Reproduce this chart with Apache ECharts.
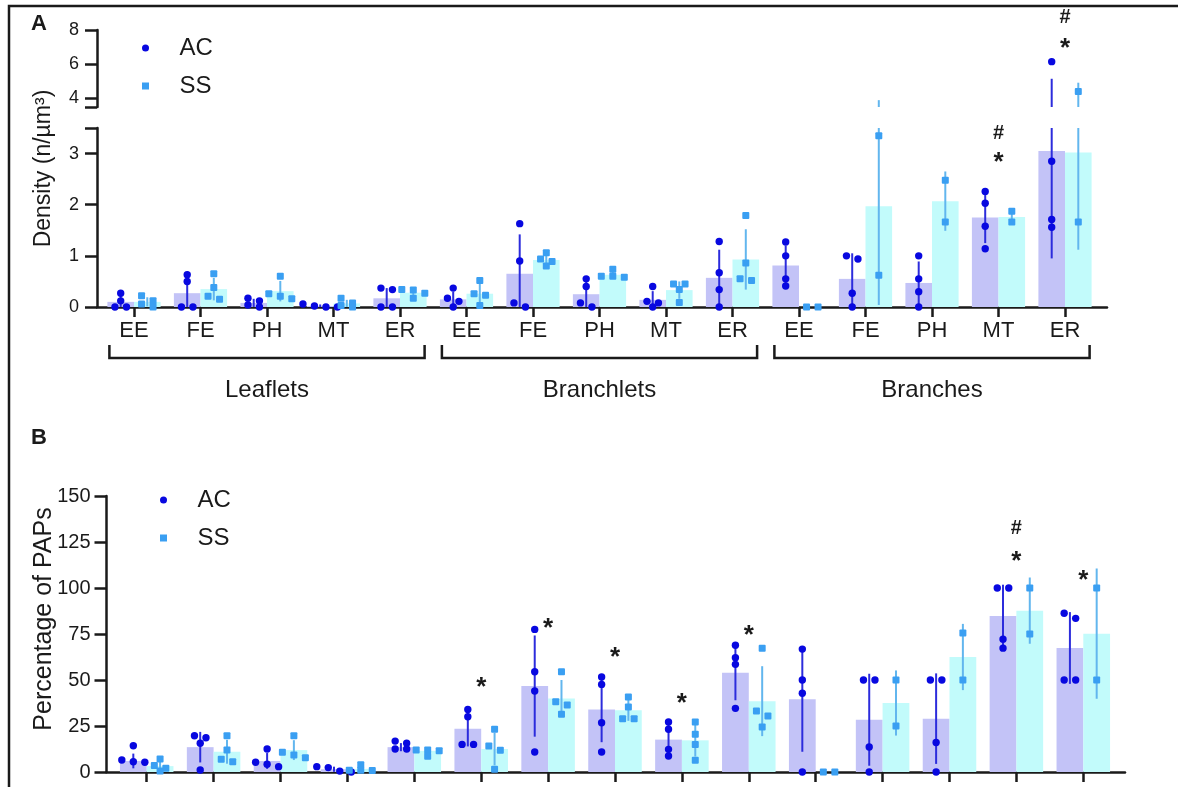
<!DOCTYPE html>
<html>
<head>
<meta charset="utf-8">
<script src="https://cdn.jsdelivr.net/npm/echarts@6.0.0/dist/echarts.min.js"></script>
<style>
  html, body { margin: 0; padding: 0; background: #ffffff; }
  #chart { width: 1178px; height: 787px; }
</style>
</head>
<body>
<div id="chart"></div>
<script>
// ---------------- DATA ----------------
const categories = ['EE','FE','PH','MT','ER','EE','FE','PH','MT','ER','EE','FE','PH','MT','ER'];
const groupNames = ['Leaflets','Branchlets','Branches'];
const groupStart = [0, 5, 10];
const groupEnd = [4, 9, 14];

// Panel A: density (n/µm³)
const densityTicksUpper = [4, 6, 8];
const densityTicksLower = [0, 1, 2, 3];
const densityAcMean = [0.10, 0.27, 0.08, 0.02, 0.17, 0.15, 0.65, 0.25, 0.14, 0.57, 0.81, 0.55, 0.47, 1.75, 3.05];
const densityAcSd   = [0.13, 0.33, 0.08, 0.03, 0.20, 0.15, 0.77, 0.26, 0.17, 0.55, 0.39, 0.50, 0.42, 0.50, 2.10];
const densityAcPoints = [
  [0, 0.27, 0.12, 0], [0, 0.63, 0.5, 0], [0.12, 0.04, 0.17, 0], [0, 0.06, 0.02, 0], [0.34, 0.37, 0, 0],
  [0.17, 0.37, 0, 0.11], [0, 1.63, 0.9, 0.08], [0, 0.55, 0.4, 0.08], [0.11, 0.4, 0, 0.08], [1.28, 0.67, 0.34, 0],
  [1.27, 1.0, 0.55, 0.41], [0.94, 1.0, 0.27, 0], [1.0, 0.55, 0.3, 0], [2.26, 2.03, 1.58, 1.14], [6.15, 2.85, 1.71, 1.56]
];
const densitySsMean = [0.10, 0.35, 0.31, 0.07, 0.28, 0.26, 0.92, 0.63, 0.33, 0.93, 0, 1.97, 2.07, 1.76, 3.02];
const densitySsSd   = [0.09, 0.22, 0.20, 0.07, 0.08, 0.20, 0.11, 0.08, 0.17, 0.59, 0, 1.93, 0.58, 0.15, 1.90];
const densitySsPoints = [
  [0, 0.22, 0.12, 0.06], [0.15, 0.65, 0.38, 0.21], [0.16, 0.6, 0.26, 0.21], [0, 0.17, 0.08, 0.03], [0.34, 0.17, 0.33, 0.27],
  [0.26, 0.52, 0.03, 0.23], [0.94, 1.06, 0.8, 0.89], [0.58, 0.74, 0.6, 0.6], [0.45, 0.45, 0.34, 0.09], [1.79, 0.86, 0.52, 0.55],
  [0, 0], [3.35, 0.62], [2.48, 1.66], [1.87, 1.66], [4.4, 1.66]
];
const densityAnnoCats  = [13, 13, 14, 14];
const densityAnnoVals  = [3.40, 2.91, 8.76, 7.18];
const densityAnnoTexts = ['#', '*', '#', '*'];

// Panel B: percentage of PAPs
const papTicks = [0, 25, 50, 75, 100, 125, 150];
const papAcMean = [6, 13.5, 6, 1.5, 13.5, 23.5, 46.7, 34, 17.6, 54, 39.5, 28.4, 29, 84.8, 67.4];
const papAcSd   = [4, 8.3, 4.3, 1.4, 2.2, 9.6, 27.5, 17.8, 8.3, 15, 28.5, 25, 24.6, 17, 19.5];
const papAcPoints = [
  [5.3, 14.3, 6.5, 5.6], [18.6, 19.7, 15.6, 1.1], [5.3, 2.9, 12.5, 4.2], [0, 2.4, 2.9, 0.5], [12.5, 15.6, 16.8, 12.5],
  [15, 15, 30, 34], [77.5, 54.5, 44, 10.9], [51.6, 47.6, 26.8, 10.9], [27.2, 23.2, 12.3, 8.7], [68.9, 62.1, 58.5, 34.6],
  [66.8, 50, 42.8, 0], [50, 50, 13.6, 0], [50, 50, 16, 0], [100, 100, 72.2, 67.3], [83.5, 86.3, 50, 50]
];
const papSsMean = [3.2, 11, 11.9, 1.7, 11.5, 12.5, 40, 33.5, 17.2, 38.5, 0, 37.5, 62.5, 87.7, 75.2];
const papSsSd   = [2.7, 6.5, 5.4, 1.6, 1.7, 8.9, 10, 5.7, 8.8, 19, 0, 17.7, 18, 18, 35.4];
const papSsPoints = [
  [3.5, 7, 0.5, 2], [5.6, 19.7, 12, 6.9], [7.8, 19.7, 10.7, 9.2], [4, 0.8, 1, 1], [12, 8.5, 11.5, 12],
  [14.1, 23.2, 11.8, 1.5], [54.5, 38.2, 36.4, 31.4], [40.8, 35.3, 29, 29], [27.2, 20.5, 15, 6.4], [67.2, 33.2, 30.4, 24.5],
  [0, 0], [50, 25], [75.6, 50], [100, 75], [100, 50]
];
const papAnnoCats  = [5, 6, 7, 8, 9, 13, 13, 14];
const papAnnoVals  = [48.4, 80.4, 64.7, 39.7, 76.6, 132.6, 116.8, 106.5];
const papAnnoTexts = ['*', '*', '*', '*', '*', '#', '*', '*'];

// ---------------- STYLE ----------------
const FONT = '"Liberation Sans", Arial, Helvetica, sans-serif';
const INK = '#1a1a1a';
const AC_BAR = '#c3c3f7', SS_BAR = '#c2fbfb';
const AC_DOT = '#0808e0', SS_DOT = '#3a9ff2';
const AC_ERR = '#2c2cdc', SS_ERR = '#62b6ee';
const AXW = 2.5;

// ---------------- RENDERERS ----------------
function groupRenderer(pointsArr, yMin, yMax, side, dotColor, errColor, square) {
  return function (params, api) {
    const i = api.value(0), mean = api.value(1), sd = api.value(2);
    const band = api.size([1, 0])[0];
    const barW = band * 0.4;
    const cx = api.coord([i, yMin])[0] + side * barW / 2;
    const children = [];
    const lo = Math.max(mean - sd, yMin), hi = Math.min(mean + sd, yMax);
    if (hi > lo) {
      children.push({ type: 'line',
        shape: { x1: cx, y1: api.coord([i, lo])[1], x2: cx, y2: api.coord([i, hi])[1] },
        style: { stroke: errColor, lineWidth: 2 } });
    }
    const pys = pointsArr[params.dataIndex]
      .filter(v => v >= yMin && v <= yMax)
      .map(v => api.coord([i, v])[1])
      .sort((a, b) => a - b);
    const clusters = [];
    pys.forEach(py => {
      const last = clusters[clusters.length - 1];
      if (last && py - last[0] < 5.5) last.push(py); else clusters.push([py]);
    });
    clusters.forEach(cl => cl.forEach((py, k) => {
      const x = cx + (k - (cl.length - 1) / 2) * 11.5;
      children.push(square
        ? { type: 'rect', shape: { x: x - 3.5, y: py - 3.5, width: 7, height: 7, r: 1 }, style: { fill: dotColor } }
        : { type: 'circle', shape: { cx: x, cy: py, r: 3.7 }, style: { fill: dotColor } });
    }));
    return { type: 'group', children };
  };
}
function annoRenderer(texts) {
  return function (params, api) {
    const t = texts[params.dataIndex];
    const p = api.coord([api.value(0), api.value(1)]);
    const isStar = t === '*';
    return { type: 'text',
      style: { text: t, x: p[0], y: p[1] + (isStar ? 5 : 0), align: 'center', verticalAlign: 'middle',
        font: 'bold ' + (isStar ? 26 : 20) + 'px ' + FONT, fill: INK } };
  };
}
function bracketRenderer(params, api) {
  const s = api.value(0), e = api.value(1);
  const band = api.size([1, 0])[0];
  const xl = api.coord([s, 0])[0] - 0.37 * band;
  const xr = api.coord([e, 0])[0] + 0.37 * band;
  const y0 = api.coord([s, 0])[1];
  return { type: 'polyline',
    shape: { points: [[xl, y0 + 38], [xl, y0 + 51], [xr, y0 + 51], [xr, y0 + 38]] },
    style: { stroke: INK, lineWidth: AXW, fill: null } };
}
const triple = (means, sds) => means.map((m, i) => [i, m, sds[i]]);

// ---------------- AXES ----------------
const axisLineStyle = { show: true, lineStyle: { color: INK, width: AXW } };
const hiddenCat = (grid) => ({ type: 'category', gridIndex: grid, data: categories, show: false });
const legendData = [{ name: 'AC', icon: 'circle' }, { name: 'SS', icon: 'path://M0,0L10,0L10,10L0,10Z' }];

const chart = echarts.init(document.getElementById('chart'), null, { renderer: 'canvas' });
const option = {
  backgroundColor: '#ffffff',
  animation: false,
  textStyle: { fontFamily: FONT },
  title: [
    { text: 'A', left: 31, top: 13, padding: 0, textStyle: { fontSize: 22, fontWeight: 'bold', color: INK, fontFamily: FONT } },
    { text: 'B', left: 31, top: 427, padding: 0, textStyle: { fontSize: 22, fontWeight: 'bold', color: INK, fontFamily: FONT } }
  ],
  legend: [
    { orient: 'vertical', left: 142, top: 36, padding: 0, itemGap: 14, itemWidth: 58, itemHeight: 7, selectedMode: false,
      textStyle: { fontSize: 24, lineHeight: 24, color: INK, fontFamily: FONT }, data: legendData },
    { orient: 'vertical', left: 160, top: 488, padding: 0, itemGap: 14, itemWidth: 58, itemHeight: 7, selectedMode: false,
      textStyle: { fontSize: 24, lineHeight: 24, color: INK, fontFamily: FONT }, data: legendData }
  ],
  grid: [
    { left: 100.75, top: 30, width: 997.5, height: 77, outerBoundsMode: 'none' },   // 0 A upper
    { left: 100.75, top: 128, width: 997.5, height: 179, outerBoundsMode: 'none' }, // 1 A lower
    { left: 97, top: 30, width: 1010, height: 277, outerBoundsMode: 'none' },       // 2 A frame
    { left: 113.25, top: 496, width: 1003.5, height: 276, outerBoundsMode: 'none' },// 3 B plot
    { left: 106.5, top: 496, width: 1018.5, height: 276, outerBoundsMode: 'none' }  // 4 B frame
  ],
  xAxis: [
    hiddenCat(0),
    { type: 'category', gridIndex: 1, data: categories, axisLine: { show: false },
      axisTick: { show: true, alignWithLabel: true, interval: 0, length: 10, lineStyle: { color: INK, width: AXW } },
      axisLabel: { interval: 0, margin: 13, fontSize: 22, color: INK, fontFamily: FONT } },
    { type: 'category', gridIndex: 1, data: groupNames, position: 'bottom', axisLine: { show: false }, axisTick: { show: false },
      axisLabel: { interval: 0, margin: 71, fontSize: 24, color: INK, fontFamily: FONT } },
    { type: 'value', gridIndex: 2, min: 0, max: 1, axisLine: axisLineStyle, axisTick: { show: false },
      axisLabel: { show: false }, splitLine: { show: false } },
    { type: 'category', gridIndex: 3, data: categories, axisLine: { show: false },
      axisTick: { show: true, alignWithLabel: true, interval: 0, length: 10, lineStyle: { color: INK, width: AXW } },
      axisLabel: { show: false, interval: 0 } },
    { type: 'value', gridIndex: 4, min: 0, max: 1, axisLine: axisLineStyle, axisTick: { show: false },
      axisLabel: { show: false }, splitLine: { show: false } }
  ],
  yAxis: [
    { type: 'value', gridIndex: 0, min: 3.5, max: 8, offset: 3.75, axisLine: axisLineStyle, splitLine: { show: false },
      axisTick: { show: true, length: 12, customValues: [3.5].concat(densityTicksUpper), lineStyle: { color: INK, width: AXW } },
      axisLabel: { customValues: densityTicksUpper, margin: 18, fontSize: 18, color: INK, fontFamily: FONT } },
    { type: 'value', gridIndex: 1, min: 0, max: 3.5, offset: 3.75, axisLine: axisLineStyle, splitLine: { show: false },
      axisTick: { show: true, length: 12, customValues: densityTicksLower.concat([3.5]), lineStyle: { color: INK, width: AXW } },
      axisLabel: { customValues: densityTicksLower, margin: 18, fontSize: 18, color: INK, fontFamily: FONT } },
    { type: 'value', gridIndex: 2, min: 0, max: 1, axisLine: { show: false }, axisTick: { show: false },
      axisLabel: { show: false }, splitLine: { show: false },
      name: 'Density (n/µm³)', nameLocation: 'middle', nameGap: 42, nameMoveOverlap: false,
      nameTextStyle: { fontSize: 23, color: INK, fontFamily: FONT } },
    { type: 'value', gridIndex: 3, min: 0, max: 150, show: false, splitLine: { show: false } },
    { type: 'value', gridIndex: 4, min: 0, max: 150, interval: 25, axisLine: axisLineStyle, splitLine: { show: false },
      axisTick: { show: true, length: 12, lineStyle: { color: INK, width: AXW } },
      axisLabel: { margin: 16, fontSize: 20, color: INK, fontFamily: FONT },
      name: 'Percentage of PAPs', nameLocation: 'middle', nameGap: 50, nameMoveOverlap: false,
      nameTextStyle: { fontSize: 25, color: INK, fontFamily: FONT, padding: [0, 0, 0, 30] } }
  ],
  series: [
    // Panel A lower
    { name: 'AC mean', type: 'bar', xAxisIndex: 1, yAxisIndex: 1, data: densityAcMean, barGap: '0%', barCategoryGap: '20%',
      itemStyle: { color: AC_BAR }, z: 2 },
    { name: 'SS mean', type: 'bar', xAxisIndex: 1, yAxisIndex: 1, data: densitySsMean, barGap: '0%', barCategoryGap: '20%',
      itemStyle: { color: SS_BAR }, z: 2 },
    { name: 'AC', type: 'custom', xAxisIndex: 1, yAxisIndex: 1, clip: false, z: 4, itemStyle: { color: AC_DOT },
      data: triple(densityAcMean, densityAcSd), encode: { x: 0, y: 1 },
      renderItem: groupRenderer(densityAcPoints, 0, 3.5, -1, AC_DOT, AC_ERR, false) },
    { name: 'SS', type: 'custom', xAxisIndex: 1, yAxisIndex: 1, clip: false, z: 4, itemStyle: { color: SS_DOT },
      data: triple(densitySsMean, densitySsSd), encode: { x: 0, y: 1 },
      renderItem: groupRenderer(densitySsPoints, 0, 3.5, 1, SS_DOT, SS_ERR, true) },
    // Panel A upper
    { name: 'AC', type: 'custom', xAxisIndex: 0, yAxisIndex: 0, clip: false, z: 4, itemStyle: { color: AC_DOT },
      data: triple(densityAcMean, densityAcSd), encode: { x: 0, y: 1 },
      renderItem: groupRenderer(densityAcPoints, 3.5, 8, -1, AC_DOT, AC_ERR, false) },
    { name: 'SS', type: 'custom', xAxisIndex: 0, yAxisIndex: 0, clip: false, z: 4, itemStyle: { color: SS_DOT },
      data: triple(densitySsMean, densitySsSd), encode: { x: 0, y: 1 },
      renderItem: groupRenderer(densitySsPoints, 3.5, 8, 1, SS_DOT, SS_ERR, true) },
    // Panel A annotations
    { name: 'A marks low', type: 'custom', xAxisIndex: 1, yAxisIndex: 1, clip: false, z: 5,
      data: densityAnnoCats.map((c, k) => [c, densityAnnoVals[k]]).filter(d => d[1] <= 3.5), encode: { x: 0, y: 1 },
      renderItem: annoRenderer(densityAnnoTexts.filter((t, k) => densityAnnoVals[k] <= 3.5)) },
    { name: 'A marks high', type: 'custom', xAxisIndex: 0, yAxisIndex: 0, clip: false, z: 5,
      data: densityAnnoCats.map((c, k) => [c, densityAnnoVals[k]]).filter(d => d[1] > 3.5), encode: { x: 0, y: 1 },
      renderItem: annoRenderer(densityAnnoTexts.filter((t, k) => densityAnnoVals[k] > 3.5)) },
    // Brackets under panel A categories
    { name: 'brackets', type: 'custom', xAxisIndex: 1, yAxisIndex: 1, clip: false, z: 5,
      data: groupStart.map((s, g) => [s, groupEnd[g]]), encode: { x: [0, 1] },
      renderItem: bracketRenderer },
    // Panel B
    { name: 'AC mean', type: 'bar', xAxisIndex: 4, yAxisIndex: 3, data: papAcMean, barGap: '0%', barCategoryGap: '20%',
      itemStyle: { color: AC_BAR }, z: 2 },
    { name: 'SS mean', type: 'bar', xAxisIndex: 4, yAxisIndex: 3, data: papSsMean, barGap: '0%', barCategoryGap: '20%',
      itemStyle: { color: SS_BAR }, z: 2 },
    { name: 'AC', type: 'custom', xAxisIndex: 4, yAxisIndex: 3, clip: false, z: 4, itemStyle: { color: AC_DOT },
      data: triple(papAcMean, papAcSd), encode: { x: 0, y: 1 },
      renderItem: groupRenderer(papAcPoints, 0, 150, -1, AC_DOT, AC_ERR, false) },
    { name: 'SS', type: 'custom', xAxisIndex: 4, yAxisIndex: 3, clip: false, z: 4, itemStyle: { color: SS_DOT },
      data: triple(papSsMean, papSsSd), encode: { x: 0, y: 1 },
      renderItem: groupRenderer(papSsPoints, 0, 150, 1, SS_DOT, SS_ERR, true) },
    { name: 'B marks', type: 'custom', xAxisIndex: 4, yAxisIndex: 3, clip: false, z: 5,
      data: papAnnoCats.map((c, k) => [c, papAnnoVals[k]]), encode: { x: 0, y: 1 },
      renderItem: annoRenderer(papAnnoTexts) }
  ],
  graphic: [
    { type: 'polyline', silent: true, z: 100,
      shape: { points: [[9, 787], [9, 6], [1178, 6]] },
      style: { stroke: INK, lineWidth: AXW, fill: null } }
  ]
};
chart.setOption(option);
</script>
</body>
</html>
